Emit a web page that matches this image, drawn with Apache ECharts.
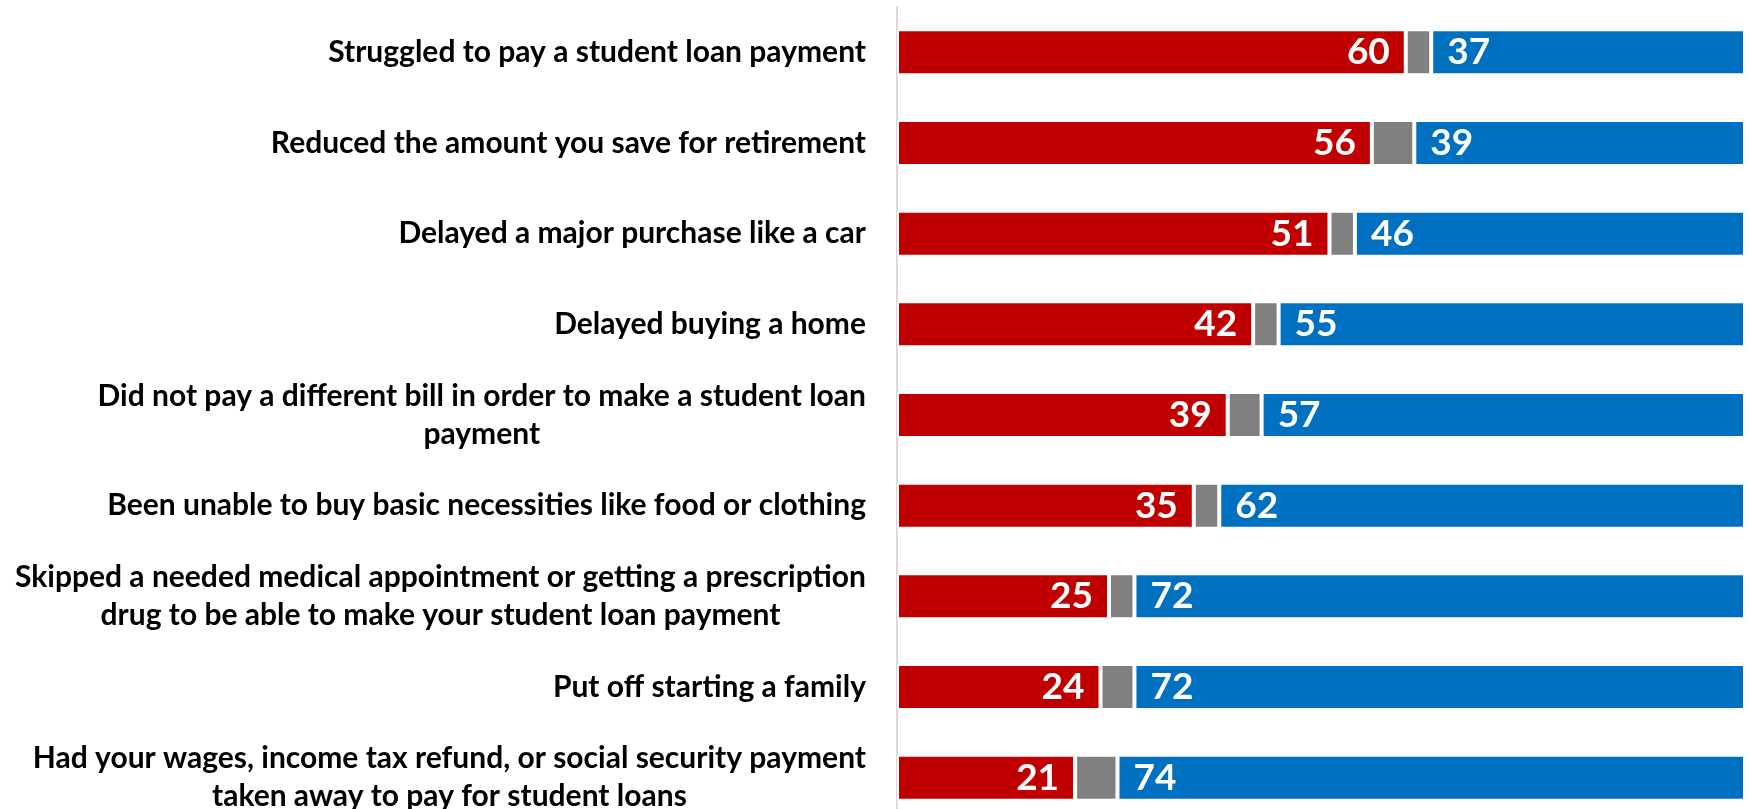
<!DOCTYPE html>
<html>
<head>
<meta charset="utf-8">
<script src="https://cdn.jsdelivr.net/npm/echarts@6/dist/echarts.min.js"></script>
<style>
  html, body { margin: 0; padding: 0; background: #ffffff; }
  #chart { width: 1750px; height: 809px; }
</style>
</head>
<body>
<div id="chart"></div>
<script>
// Survey items (line breaks where the label wraps)
const categories = [
  'Struggled to pay a student loan payment',
  'Reduced the amount you save for retirement',
  'Delayed a major purchase like a car',
  'Delayed buying a home',
  'Did not pay a different bill in order to make a student loan\npayment',
  'Been unable to buy basic necessities like food or clothing',
  'Skipped a needed medical appointment or getting a prescription\ndrug to be able to make your student loan payment',
  'Put off starting a family',
  'Had your wages, income tax refund, or social security payment\ntaken away to pay for student loans'
];

// Percent answering yes / not sure / no
const yesValues    = [60, 56, 51, 42, 39, 35, 25, 24, 21];
const unsureValues = [3, 5, 3, 3, 4, 3, 3, 4, 5];
const noValues     = [37, 39, 46, 55, 57, 62, 72, 72, 74];

const FONT = 'Lato';

const chart = echarts.init(document.getElementById('chart'), null, { renderer: 'canvas' });

const valueLabel = (position) => ({
  show: true,
  position: position,
  distance: 16,
  color: '#ffffff',
  fontFamily: FONT,
  fontWeight: 'bold',
  fontSize: 37
});

chart.setOption({
  animation: false,
  backgroundColor: '#ffffff',
  grid: {
    left: 897, right: 5, top: 7, height: 816,
    containLabel: false,
    outerBoundsMode: 'none'
  },
  xAxis: {
    type: 'value',
    min: 0,
    max: 100,
    show: false
  },
  yAxis: {
    type: 'category',
    data: categories,
    inverse: true,
    axisLine: { show: true, lineStyle: { color: '#d9d9d9', width: 2 } },
    axisTick: { show: false },
    splitLine: { show: false },
    axisLabel: {
      margin: 31,
      align: 'right',
      color: '#000000',
      fontFamily: FONT,
      fontWeight: 'bold',
      fontSize: 30,
      lineHeight: 38,
      formatter: (v) => v.split('\n').map(l => '{c|' + l + '}').join('\n'),
      rich: {
        c: {
          align: 'center',
          color: '#000000',
          fontFamily: FONT,
          fontWeight: 'bold',
          fontSize: 30,
          lineHeight: 38
        }
      }
    }
  },
  series: [
    {
      name: 'Yes',
      type: 'bar',
      stack: 'total',
      barWidth: 46,
      data: yesValues,
      itemStyle: { color: '#C00000', borderColor: '#ffffff', borderWidth: 2 },
      label: valueLabel('insideRight')
    },
    {
      name: 'Not sure',
      type: 'bar',
      stack: 'total',
      barWidth: 46,
      data: unsureValues,
      itemStyle: { color: '#808080', borderColor: '#ffffff', borderWidth: 2 },
      label: { show: false }
    },
    {
      name: 'No',
      type: 'bar',
      stack: 'total',
      barWidth: 46,
      data: noValues,
      itemStyle: { color: '#0070C0', borderColor: '#ffffff', borderWidth: 2 },
      label: valueLabel('insideLeft')
    }
  ]
});
</script>
</body>
</html>
